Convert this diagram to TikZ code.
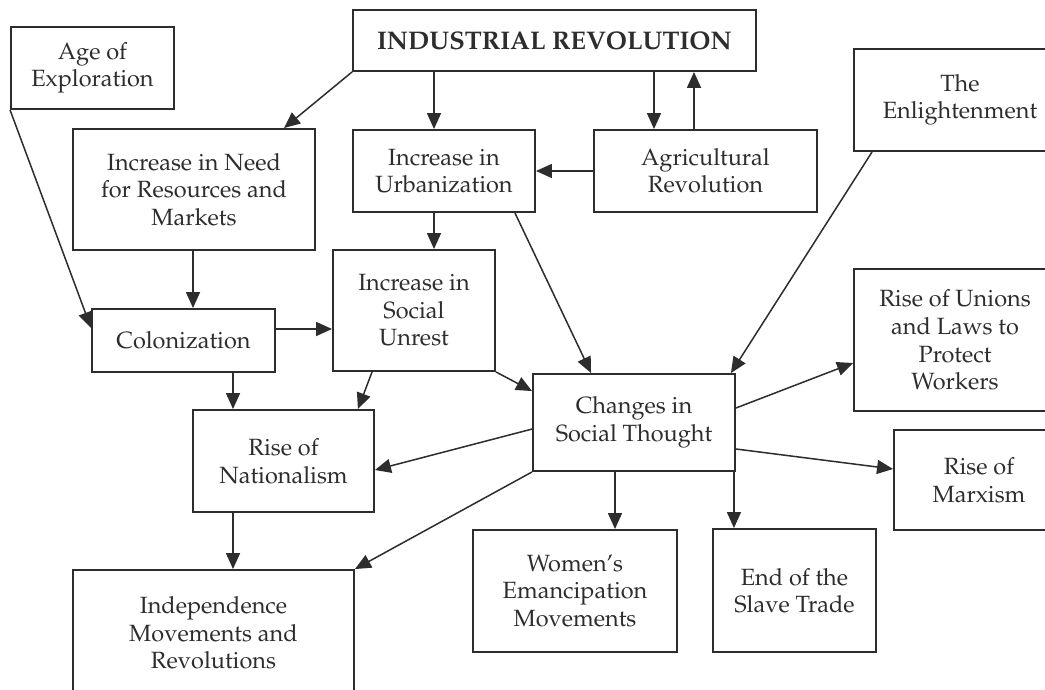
\documentclass[tikz,border=0pt]{standalone}
\usepackage[T1]{fontenc}
\usepackage{mathpazo}
\usetikzlibrary{arrows.meta,calc}
\definecolor{ink}{RGB}{45,45,45}
\begin{document}
\begin{tikzpicture}[x=1pt,y=-1pt,
  box/.style={draw=ink,line width=1.9pt,text=ink,align=center,inner sep=1pt,
    font=\fontsize{23.5}{27.5}\selectfont},
  arr/.style={draw=ink,line width=1.5pt,-{Triangle[length=16pt,width=14pt]}}]
\useasboundingbox (0,0) rectangle (1045,690);
\clip (0,0) rectangle (1045,690);
\fill[white] (0,0) rectangle (1045,690);
% nodes
\node[box,minimum width=163pt,minimum height=82pt] (age) at (92.5,68) {Age of\\Exploration};
\node[box,minimum width=403pt,minimum height=61pt,font=\fontsize{25.5}{28}\selectfont\bfseries] (ir) at (554.5,40.5) {INDUSTRIAL REVOLUTION};
\node[box,minimum width=242pt,minimum height=121pt] (need) at (194,189.5) {Increase in Need\\for Resources and\\Markets};
\node[box,minimum width=182pt,minimum height=82pt] (urb) at (444,171) {Increase in\\Urbanization};
\node[box,minimum width=223pt,minimum height=82pt] (agri) at (705.5,171) {Agricultural\\Revolution};
\node[box,minimum width=212pt,minimum height=102pt] (enl) at (960,100) {The\\Enlightenment};
\node[box,minimum width=183pt,minimum height=63pt] (col) at (183.5,340.5) {Colonization};
\node[box,minimum width=162pt,minimum height=121pt] (unr) at (414,310.5) {Increase in\\Social\\Unrest};
\node[box,minimum width=202pt,minimum height=97pt] (cst) at (634,422.5) {Changes in\\Social Thought};
\node[box,minimum width=202pt,minimum height=142pt] (uni) at (955,340) {Rise of Unions\\and Laws to\\Protect\\Workers};
\node[box,minimum width=170pt,minimum height=100pt] (mar) at (979,480) {Rise of\\Marxism};
\node[box,minimum width=181pt,minimum height=102pt] (nat) at (283.5,461) {Rise of\\Nationalism};
\node[box,minimum width=204pt,minimum height=122pt] (wom) at (575,591) {Women's\\Emancipation\\Movements};
\node[box,minimum width=163pt,minimum height=123pt] (sla) at (794.5,590.5) {End of the\\Slave Trade};
\node[box,minimum width=281pt,minimum height=126pt] (ind) at (213.5,633) {Independence\\Movements and\\Revolutions};
% connectors
\draw[arr] (ir.south west) -- ([xshift=212pt]need.north west);
\draw[arr] ([xshift=-10pt]urb.north |- ir.south) -- ([xshift=-10pt]urb.north);
\draw[arr] ([xshift=-51.5pt]agri.north |- ir.south) -- ([xshift=-51.5pt]agri.north);
\draw[arr] ([xshift=-11.5pt]agri.north) -- ([xshift=-11.5pt]agri.north |- ir.south);
\draw[arr] (agri.west) -- (urb.east);
\draw[arr] (age.south west) -- ([yshift=12.5pt]col.west);
\draw[arr] ([xshift=-1pt]need.south) -- ([xshift=-1pt]need.south |- col.north);
\draw[arr] ([yshift=11.5pt]col.east) -- ([yshift=11.5pt]col.east -| unr.west);
\draw[arr] ([xshift=-10pt]urb.south) -- ([xshift=-10pt]urb.south |- unr.north);
\draw[arr] ([xshift=-21pt]urb.south east) -- ([xshift=59pt]cst.north west);
\draw[arr] ([xshift=19pt]enl.south west) -- ([xshift=-5pt]cst.north east);
\draw[arr] (unr.south east) -- ([yshift=-18pt]cst.north west);
\draw[arr] ([xshift=49.5pt]col.south) -- ([xshift=49.5pt]col.south |- nat.north);
\draw[arr] ([xshift=40pt]unr.south west) -- ([xshift=-17pt]nat.north east);
\draw[arr] ([yshift=-56pt]cst.north west) -- ([yshift=-9pt]nat.east);
\draw[arr] (cst.south west) -- (ind.north east);
\draw[arr] ([xshift=-50.5pt]nat.south) -- ([xshift=-50.5pt]nat.south |- ind.north);
\draw[arr] ([xshift=-19pt]cst.south) -- ([xshift=-19pt]cst.south |- wom.north);
\draw[arr] ([xshift=-2pt]cst.south east) -- ([xshift=-2pt]cst.south east |- sla.north);
\draw[arr] ([yshift=14.5pt]cst.east) -- ([yshift=-23pt]uni.west);
\draw[arr] ([yshift=-26.5pt]cst.east) -- ([yshift=11pt]mar.west);
\end{tikzpicture}
\end{document}
